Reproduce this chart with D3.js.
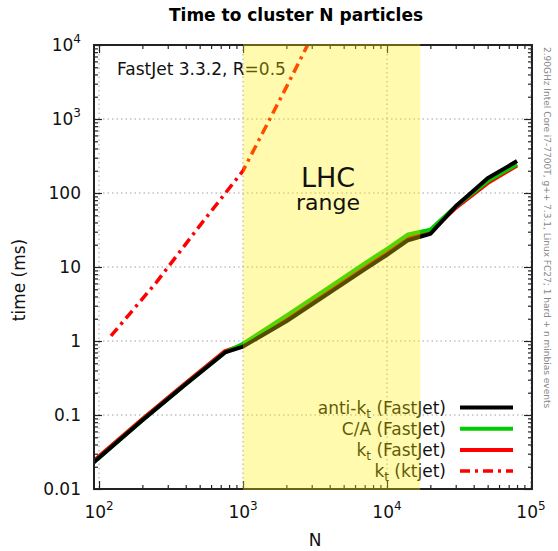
<!DOCTYPE html>
<html>
<head>
<meta charset="utf-8">
<script src="https://cdn.jsdelivr.net/npm/d3@7"></script>
<style>
  body { margin: 0; background: #fff; }
  svg { font-family: "DejaVu Sans", sans-serif; }
</style>
</head>
<body>
<div id="chart"></div>
<script>
// particle multiplicities for the FastJet runs
const nFastjet = [92, 200, 400, 750, 1000, 2000, 4000, 7000, 10000, 14000, 20000, 30000, 50000, 80000];
// timings in ms
const antiKt = [0.023, 0.085, 0.26, 0.70, 0.84, 1.85, 4.5, 9.3, 14.6, 23, 28, 66, 158, 270];
const camAachen = [0.023, 0.085, 0.26, 0.70, 0.92, 2.2, 5.4, 11.2, 17.6, 27.5, 32, 66, 145, 245];
const ktFastjet = [0.024, 0.088, 0.27, 0.73, 0.88, 2.0, 4.9, 10.2, 16, 25, 30, 63, 136, 235];

// ktjet (N^3) run
const nKtjet = [121, 250, 500, 1000, 2000, 4000];
const ktKtjet = [1.17, 6.2, 36, 200, 2700, 39000];

const xMajor = [1e2, 1e3, 1e4, 1e5];
const xMajorExp = ["2", "3", "4", "5"];
const yMajor = [0.01, 0.1, 1, 10, 100, 1e3, 1e4];
const yMajorText = ["0.01", "0.1", "1", "10", "100", "10", "10"];
const yMajorExp = [null, null, null, null, null, "3", "4"];

const lhcRange = [1000, 17000];

const width = 558, height = 551;
const margin = {top: 45, left: 94, right: 26, bottom: 62};

const svg = d3.select("#chart").append("svg")
    .attr("width", width)
    .attr("height", height);

const xScale = d3.scaleLog()
    .domain([Math.pow(10, 1.965), Math.pow(10, 5.007)])
    .range([margin.left, width - margin.right]);

const yScale = d3.scaleLog()
    .domain([0.01, 1e4])
    .range([height - margin.bottom, margin.top]);

const x0 = margin.left, x1 = width - margin.right;
const y0 = margin.top, y1 = height - margin.bottom;

// minor tick values
function minors(lo, hi) {
    const out = [];
    for (let e = lo; e < hi; e++) {
        for (let k = 2; k <= 9; k++) out.push(k * Math.pow(10, e));
    }
    return out;
}
const xMinor = minors(1, 5).filter(v => v >= xScale.domain()[0] && v <= xScale.domain()[1]);
const yMinor = minors(-2, 4);

// grid
const grid = svg.append("g").attr("stroke", "#a0a0a0").attr("stroke-width", 1)
    .attr("stroke-dasharray", "1.5,3");
grid.selectAll(".gx").data(xMajor).enter().append("line")
    .attr("x1", d => xScale(d)).attr("x2", d => xScale(d))
    .attr("y1", y0).attr("y2", y1);
grid.selectAll(".gy").data(yMajor).enter().append("line")
    .attr("x1", x0).attr("x2", x1)
    .attr("y1", d => yScale(d)).attr("y2", d => yScale(d));

// clip for data
svg.append("clipPath").attr("id", "plotclip")
    .append("rect").attr("x", x0).attr("y", y0).attr("width", x1 - x0).attr("height", y1 - y0);

const line = d3.line()
    .x(d => xScale(d[0]))
    .y(d => yScale(d[1]));

const plot = svg.append("g").attr("clip-path", "url(#plotclip)").attr("fill", "none");

plot.append("path")
    .datum(nKtjet.map((n, i) => [n, ktKtjet[i]]))
    .attr("d", line)
    .attr("stroke", "#ff0000")
    .attr("stroke-width", 3.5)
    .attr("stroke-dasharray", "10,5,3,5");

const series = [
    {vals: ktFastjet, color: "#ff0000"},
    {vals: camAachen, color: "#00cc00"},
    {vals: antiKt, color: "#000000"}
];
series.forEach(s => {
    plot.append("path")
        .datum(nFastjet.map((n, i) => [n, s.vals[i]]))
        .attr("d", line)
        .attr("stroke", s.color)
        .attr("stroke-width", 4)
        .attr("stroke-linejoin", "round");
});

// axes (ticks inward on all four sides)
function addAxis(gen, transform, values, size) {
    const g = svg.append("g")
        .attr("transform", transform)
        .call(gen.tickValues(values).tickSize(size).tickFormat(""));
    g.select(".domain").remove();
    g.selectAll(".tick line").attr("stroke", "#222").attr("stroke-width", 1.2);
}
addAxis(d3.axisBottom(xScale), `translate(0,${y1})`, xMajor, -8);
addAxis(d3.axisBottom(xScale), `translate(0,${y1})`, xMinor, -4);
addAxis(d3.axisTop(xScale), `translate(0,${y0})`, xMajor, -8);
addAxis(d3.axisTop(xScale), `translate(0,${y0})`, xMinor, -4);
addAxis(d3.axisLeft(yScale), `translate(${x0},0)`, yMajor, -8);
addAxis(d3.axisLeft(yScale), `translate(${x0},0)`, yMinor, -4);
addAxis(d3.axisRight(yScale), `translate(${x1},0)`, yMajor, -8);
addAxis(d3.axisRight(yScale), `translate(${x1},0)`, yMinor, -4);

svg.append("rect")
    .attr("x", x0).attr("y", y0).attr("width", x1 - x0).attr("height", y1 - y0)
    .attr("fill", "none").attr("stroke", "#222").attr("stroke-width", 2);

// tick labels
const xLab = svg.selectAll(".xlab").data(xMajor).enter().append("text")
    .attr("x", d => xScale(d)).attr("y", 518)
    .attr("text-anchor", "middle").attr("font-size", 17).attr("fill", "#111");
xLab.append("tspan").text("10");
xLab.append("tspan").attr("dy", -8).attr("font-size", 12).text((d, i) => xMajorExp[i]);

const yLab = svg.selectAll(".ylab").data(yMajor).enter().append("text")
    .attr("x", 81).attr("y", d => yScale(d) + 6)
    .attr("text-anchor", "end").attr("font-size", 17).attr("fill", "#111");
yLab.append("tspan").text((d, i) => yMajorText[i]);
yLab.filter((d, i) => yMajorExp[i] !== null)
    .append("tspan").attr("dy", -8).attr("font-size", 12).text(d => yMajorExp[yMajor.indexOf(d)]);

// axis titles
svg.append("text").attr("x", 315).attr("y", 546).attr("text-anchor", "middle")
    .attr("font-size", 17).attr("fill", "#111").text("N");
svg.append("text").attr("transform", "rotate(-90)")
    .attr("x", -280).attr("y", 25).attr("text-anchor", "middle")
    .attr("font-size", 17).attr("fill", "#111").text("time (ms)");

svg.append("text").attr("x", 296).attr("y", 21).attr("text-anchor", "middle")
    .attr("font-size", 17).attr("font-weight", "bold").attr("fill", "#000")
    .text("Time to cluster N particles");

svg.append("text").attr("transform", "rotate(90)")
    .attr("x", 47).attr("y", -544)
    .attr("font-size", 9).attr("fill", "#888")
    .text("2.90GHz Intel Core i7-7700T, g++ 7.3.1, Linux FC27; 1 hard + n minbias events");

svg.append("text").attr("x", 117).attr("y", 75)
    .attr("font-size", 17).attr("fill", "#111").text("FastJet 3.3.2, R=0.5");

// legend
const legend = [
    {pre: "anti-k", post: " (FastJet)", color: "#000000", dash: null},
    {pre: "C/A (FastJet)", post: null, color: "#00cc00", dash: null},
    {pre: "k", post: " (FastJet)", color: "#ff0000", dash: null},
    {pre: "k", post: " (ktjet)", color: "#ff0000", dash: "10,5,3,5"}
];
legend.forEach((l, i) => {
    const cy = 407.5 + i * 21.2;
    const t = svg.append("text").attr("x", 446).attr("y", cy + 6)
        .attr("text-anchor", "end").attr("font-size", 17).attr("fill", "#111");
    t.append("tspan").text(l.pre);
    if (l.post) {
        t.append("tspan").attr("dy", 4).attr("font-size", 12).text("t");
        t.append("tspan").attr("dy", -4).text(l.post);
    }
    svg.append("line").attr("x1", 460).attr("x2", 513).attr("y1", cy).attr("y2", cy)
        .attr("stroke", l.color).attr("stroke-width", l.dash ? 3.5 : 4)
        .attr("stroke-dasharray", l.dash);
});

// LHC band, translucent, drawn above the lines
svg.append("rect")
    .attr("x", xScale(lhcRange[0])).attr("y", y0 - 1)
    .attr("width", xScale(lhcRange[1]) - xScale(lhcRange[0]))
    .attr("height", y1 - y0 + 2)
    .attr("fill", "rgb(255,238,0)").attr("fill-opacity", 0.32);

svg.append("text").attr("x", 328).attr("y", 187).attr("text-anchor", "middle")
    .attr("font-size", 27).attr("fill", "#111").text("LHC");
svg.append("text").attr("x", 328).attr("y", 210).attr("text-anchor", "middle")
    .attr("font-size", 22).attr("fill", "#111").text("range");
</script>
</body>
</html>
